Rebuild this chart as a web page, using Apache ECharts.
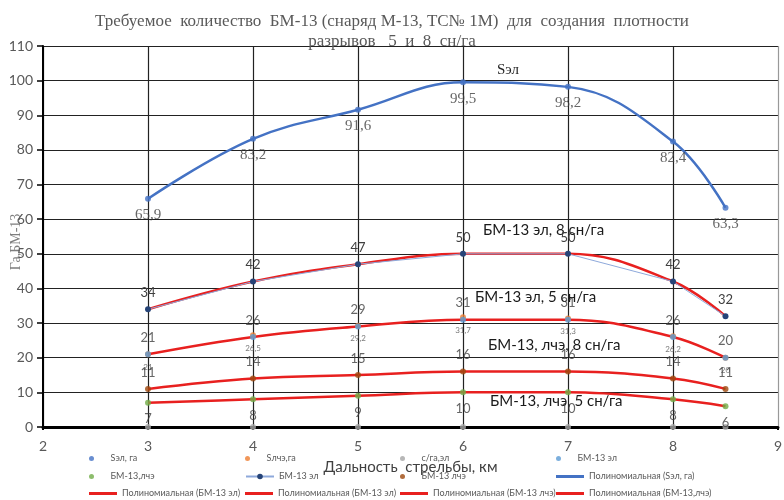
<!DOCTYPE html>
<html>
<head>
<meta charset="utf-8">
<script src="https://cdn.jsdelivr.net/npm/echarts@6/dist/echarts.min.js"></script>
<style>html,body{margin:0;padding:0;background:#fff;}#c{width:784px;height:500px;}</style>
</head>
<body>
<div id="c"></div>
<script>
// ---- data ----
const titleText = 'Требуемое  количество  БМ-13 (снаряд М-13, ТС№ 1М)  для  создания  плотности\nразрывов   5  и  8  сн/га';
const xName = 'Дальность  стрельбы, км';
const yName = 'Га,БМ-13';
const xVals = [3, 4, 5, 6, 7, 8, 8.5];
const sEl = [65.9, 83.2, 91.6, 99.5, 98.2, 82.4, 63.3];      // Sэл, га
const sLche = [21, 26.5, 29.2, 31.7, 31.3, 26.2, 20];        // Sлчэ,га
const cGaEl = [0, 0, 0, 0, 0, 0, 0];                         // с/га,эл
const bmEl5 = [21, 26, 29, 31, 31, 26, 20];                  // БМ-13 эл (5 сн/га)
const bmLche5 = [7, 8, 9, 10, 10, 8, 6];                     // БМ-13,лчэ (5 сн/га)
const bmEl8 = [34, 42, 47, 50, 50, 42, 32];                  // БМ-13 эл (8 сн/га)
const bmLche8 = [11, 14, 15, 16, 16, 14, 11];                // БМ-13 лчэ (8 сн/га)
const annotations = ['Sэл', 'БМ-13 эл, 8 сн/га', 'БМ-13 эл, 5 сн/га', 'БМ-13, лчэ, 8 сн/га', 'БМ-13, лчэ, 5 сн/га'];

const pts = arr => xVals.map((x, i) => [x, arr[i]]);
const fmt = p => String(p.value[1]).replace('.', ',');
const SANS = 'Lato, "Liberation Sans", sans-serif';
const SERIF = '"Liberation Serif", "DejaVu Serif", serif';

function dotSeries(name, data, color, label) {
  return {
    name, type: 'scatter', data: pts(data), symbolSize: 6, z: 5,
    itemStyle: { color },
    label: label || { show: false }
  };
}
function trend(name, data, color) {
  return {
    name, type: 'line', data: pts(data), smooth: 0.4, showSymbol: false, z: 3,
    lineStyle: { color, width: 2.5 }, itemStyle: { color }
  };
}
const lblAbove = { show: true, position: 'top', distance: 7, formatter: fmt, fontFamily: SANS, fontSize: 13, color: '#404040' };
const lblBelow = { show: true, position: 'bottom', distance: 7, formatter: fmt, fontFamily: SANS, fontSize: 13, color: '#404040' };

const series = [
  dotSeries('Sэл, га', sEl, '#4472C4', { show: true, position: 'bottom', distance: 6, formatter: fmt, fontFamily: SERIF, fontSize: 15, color: '#404040' }),
  dotSeries('Sлчэ,га', sLche, '#ED7D31', { show: true, position: 'bottom', distance: 6, formatter: fmt, fontFamily: SANS, fontSize: 8, color: '#595959' }),
  dotSeries('с/га,эл', cGaEl, '#A5A5A5'),
  dotSeries('БМ-13 эл', bmEl5, '#5B9BD5', lblAbove),
  dotSeries('БМ-13,лчэ', bmLche5, '#70AD47', lblBelow),
  {
    name: 'БМ-13 эл\u200b', type: 'line', data: pts(bmEl8), symbol: 'circle', symbolSize: 6, z: 4,
    lineStyle: { color: '#8EA9DB', width: 1 }, itemStyle: { color: '#264478' },
    label: lblAbove
  },
  dotSeries('БМ-13 лчэ', bmLche8, '#9E480E', lblAbove),
  trend('Полиномиальная (Sэл, га)', sEl, '#4472C4'),
  trend('Полиномиальная (БМ-13 эл)', bmEl8, '#E8201F'),
  trend('Полиномиальная (БМ-13 эл)\u200b', bmEl5, '#E8201F'),
  trend('Полиномиальная (БМ-13 лчэ)', bmLche8, '#E8201F'),
  trend('Полиномиальная (БМ-13,лчэ)', bmLche5, '#E8201F')
];

function lg(name, left, top, kind) {
  const o = {
    data: [name], left, top, itemGap: 0, padding: 0, selectedMode: false,
    itemWidth: 28, itemHeight: 5,
    textStyle: { fontSize: 9, color: '#595959', fontFamily: SANS }
  };
  if (kind === 'dot') { o.data = [{ name, icon: 'circle' }]; o.itemHeight = 5; }
  if (kind === 'line') { o.data = [{ name, icon: 'rect' }]; o.itemHeight = 3; }
  if (kind === 'lm') { o.itemHeight = 7; }
  return o;
}
const cols = [89, 245, 400, 556];
const rows = [454, 472, 489];
const legends = [
  lg('Sэл, га', cols[0], rows[0], 'dot'),
  lg('Sлчэ,га', cols[1], rows[0], 'dot'),
  lg('с/га,эл', cols[2], rows[0], 'dot'),
  lg('БМ-13 эл', cols[3], rows[0], 'dot'),
  lg('БМ-13,лчэ', cols[0], rows[1], 'dot'),
  lg('БМ-13 эл\u200b', cols[1], rows[1], 'lm'),
  lg('БМ-13 лчэ', cols[2], rows[1], 'dot'),
  lg('Полиномиальная (Sэл, га)', cols[3], rows[1], 'line'),
  lg('Полиномиальная (БМ-13 эл)', cols[0], rows[2], 'line'),
  lg('Полиномиальная (БМ-13 эл)\u200b', cols[1], rows[2], 'line'),
  lg('Полиномиальная (БМ-13 лчэ)', cols[2], rows[2], 'line'),
  lg('Полиномиальная (БМ-13,лчэ)', cols[3], rows[2], 'line')
];

const chart = echarts.init(document.getElementById('c'), null, { renderer: 'canvas' });
chart.setOption({
  backgroundColor: '#fff',
  animation: false,
  title: {
    text: titleText, left: 'center', top: 7,
    textStyle: { fontFamily: SERIF, fontSize: 17, fontWeight: 'normal', color: '#595959', lineHeight: 20 }
  },
  grid: { left: 43, right: 6, top: 46, bottom: 73, containLabel: false, outerBoundsMode: 'none' },
  xAxis: {
    type: 'value', min: 2, max: 9, interval: 1,
    name: xName, nameLocation: 'middle', nameGap: 33,
    nameTextStyle: { fontFamily: SANS, fontSize: 15, color: '#404040' },
    axisLine: { show: true, onZero: false, lineStyle: { color: '#000', width: 3 } },
    axisTick: { show: true, length: 3, lineStyle: { color: '#000', width: 2 } },
    axisLabel: { margin: 12, fontFamily: SANS, fontSize: 14, color: '#595959' },
    splitLine: { show: true, lineStyle: { color: ['#222', '#222', '#222', '#222', '#222', '#222', '#222', '#999'], width: 1.2 } }
  },
  yAxis: {
    type: 'value', min: 0, max: 110, interval: 10,
    axisLine: { show: true, lineStyle: { color: '#000', width: 2 } },
    axisTick: { show: true, length: 6, lineStyle: { color: '#000', width: 1.5 } },
    axisLabel: { margin: 10, fontFamily: SANS, fontSize: 14, color: '#595959' },
    splitLine: { show: true, lineStyle: { color: '#222', width: 1.2 } }
  },
  legend: legends,
  graphic: [
    { type: 'text', x: 16, y: 242, rotation: Math.PI / 2, style: { text: yName, font: '14px ' + SERIF, fill: '#7f7f7f', align: 'center', verticalAlign: 'middle' } },
    { type: 'text', left: 497, top: 63, style: { text: annotations[0], font: '15px ' + SERIF, fill: '#262626' } },
    { type: 'text', left: 483, top: 223, style: { text: annotations[1], font: '15px ' + SANS, fill: '#1a1a1a' } },
    { type: 'text', left: 475, top: 290, style: { text: annotations[2], font: '15px ' + SANS, fill: '#1a1a1a' } },
    { type: 'text', left: 488, top: 338, style: { text: annotations[3], font: '15px ' + SANS, fill: '#1a1a1a' } },
    { type: 'text', left: 490, top: 394, style: { text: annotations[4], font: '15px ' + SANS, fill: '#1a1a1a' } }
  ],
  series
});
</script>
</body>
</html>
